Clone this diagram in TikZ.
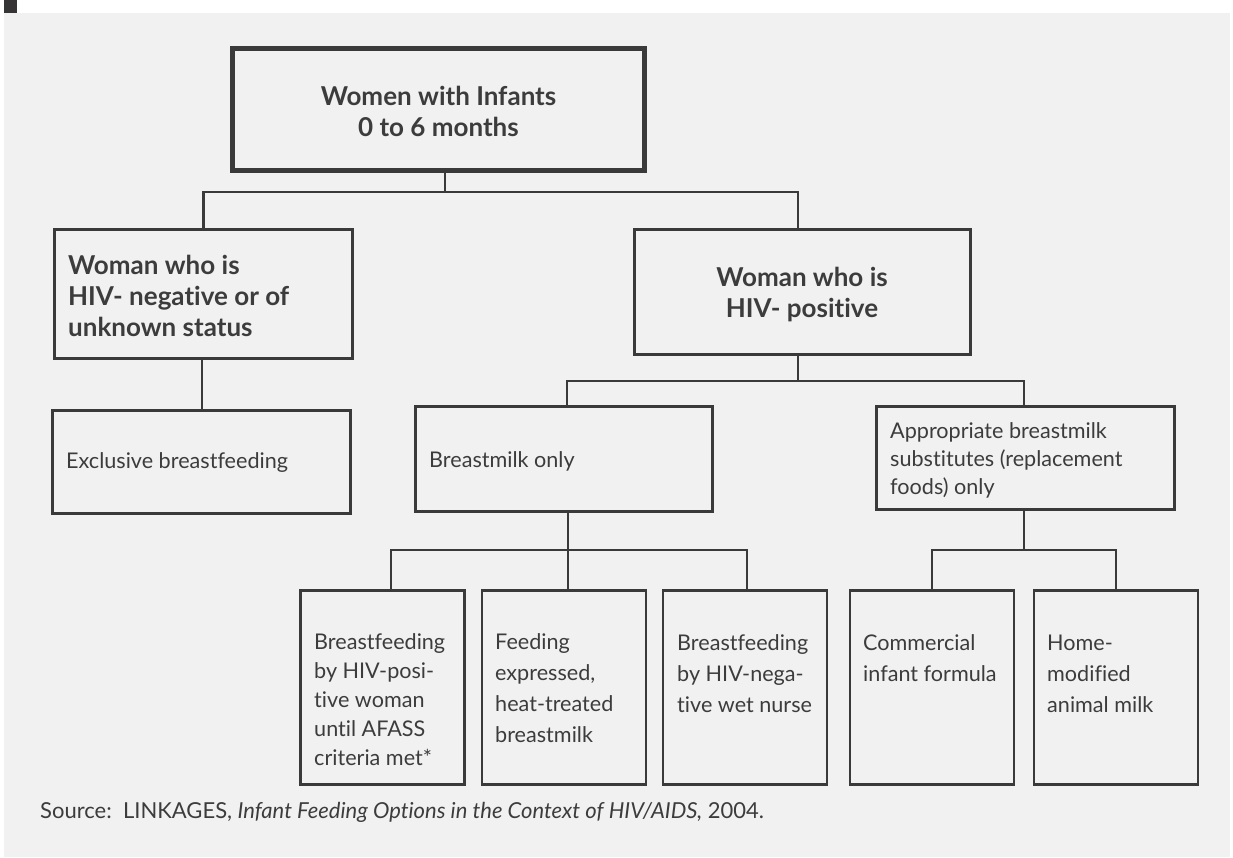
\documentclass[tikz,border=0pt]{standalone}
\usepackage{fontspec}
\setmainfont{Lato}[Ligatures=NoCommon]
\definecolor{panel}{RGB}{240,241,240}
\definecolor{linec}{RGB}{58,58,58}
\definecolor{textc}{RGB}{60,60,60}
\definecolor{darksq}{RGB}{55,52,53}
\begin{document}
\begin{tikzpicture}[x=1pt,y=-1pt,
  ln/.style={draw=linec, line width=2.6pt},
  box/.style={draw=linec, line width=2.6pt, rectangle, inner sep=0pt},
  txt/.style={text=textc, inner sep=0pt, align=left, anchor=west, font=\fontsize{21.6}{31}\selectfont},
  btxt/.style={text=textc, inner sep=0pt, font=\bfseries\fontsize{26}{31}\selectfont},
]
\path[use as bounding box] (0,0) rectangle (1233,857);
\fill[panel] (4,13) rectangle (1230,857);
\fill[darksq] (4,0) rectangle (17,13);

% boxes
\node[box, line width=5pt, minimum width=412pt, minimum height=122pt] (top) at (438.5,109.5) {};
\node[box, minimum width=298pt, minimum height=129pt] (neg) at (203.5,294) {};
\node[box, minimum width=336pt, minimum height=125pt] (pos) at (802.5,292) {};
\node[box, minimum width=298pt, minimum height=103pt] (excl) at (201.5,462) {};
\node[box, minimum width=297pt, minimum height=105pt] (bm) at (564,459) {};
\node[box, minimum width=298pt, minimum height=103pt] (app) at (1025.5,458) {};
\node[box, minimum width=164pt, minimum height=194pt] (b1) at (382.5,687.5) {};
\node[box, minimum width=164pt, minimum height=194pt] (b2) at (564,687.5) {};
\node[box, minimum width=164pt, minimum height=194pt] (b3) at (745,687.5) {};
\node[box, minimum width=164pt, minimum height=194pt] (b4) at (932,687.5) {};
\node[box, minimum width=164pt, minimum height=194pt] (b5) at (1116,687.5) {};

% junction levels
\coordinate (j0) at (0,192);
\coordinate (j1) at (0,381);
\coordinate (j2) at (0,550);

% connectors
\draw[ln] ([xshift=6.5pt]top.south) -- ([xshift=6.5pt]top.south |- j0);
\draw[ln] (neg.north) -- (neg.north |- j0) -- ([xshift=-4.5pt]pos.north |- j0) -- ([xshift=-4.5pt]pos.north);
\draw[ln] ([xshift=-1.5pt]neg.south) -- ([xshift=-1.5pt]neg.south |- excl.north);
\draw[ln] ([xshift=-4.5pt]pos.south) -- ([xshift=-4.5pt]pos.south |- j1);
\draw[ln] ([xshift=3pt]bm.north) -- ([xshift=3pt]bm.north |- j1) -- ([xshift=-1.5pt]app.north |- j1) -- ([xshift=-1.5pt]app.north);
\draw[ln] ([xshift=4pt]bm.south) -- ([xshift=4pt]bm.south |- j2);
\draw[ln] ([xshift=8.5pt]b1.north) -- ([xshift=8.5pt]b1.north |- j2) -- ([xshift=2pt]b3.north |- j2) -- ([xshift=2pt]b3.north);
\draw[ln] ([xshift=4pt]b2.north) -- ([xshift=4pt]b2.north |- j2);
\draw[ln] ([xshift=-1.5pt]app.south) -- ([xshift=-1.5pt]app.south |- j2);
\draw[ln] (b4.north) -- (b4.north |- j2) -- (b5.north |- j2) -- (b5.north);

% texts
\node[btxt, align=center] (ttop) at (438.5,111) {Women with Infants\\0 to 6 months};
\node[btxt, align=left, anchor=west] (tneg) at (68,296) {Woman who is\\HIV- negative or of\\unknown status};
\node[btxt, align=center] (tpos) at (802,294.5) {Woman who is\\HIV- positive};
\node[txt] (texcl) at (66,463) {Exclusive breastfeeding};
\node[txt] (tbm) at (429,461) {Breastmilk only};
\node[txt, font=\fontsize{21.6}{28}\selectfont] (tapp) at (890,460) {Appropriate breastmilk\\substitutes (replacement\\foods) only};
\node[txt, font=\fontsize{21.6}{29}\selectfont] (tb1) at (314,699.5) {Breastfeeding\\by HIV-posi-\\tive woman\\until AFASS\\criteria met*};
\node[txt] (tb2) at (495,688.5) {Feeding\\expressed,\\heat-treated\\breastmilk};
\node[txt] (tb3) at (677,674) {Breastfeeding\\by HIV-nega-\\tive wet nurse};
\node[txt] (tb4) at (863,658.5) {Commercial\\infant formula};
\node[txt] (tb5) at (1047,674) {Home-\\modified\\animal milk};

\node[txt, font=\fontsize{22}{24}\selectfont] (src) at (40,812) {Source:\ \ LINKAGES, \textit{Infant Feeding Options in the Context of HIV/AIDS,} 2004.};
\end{tikzpicture}
\end{document}
